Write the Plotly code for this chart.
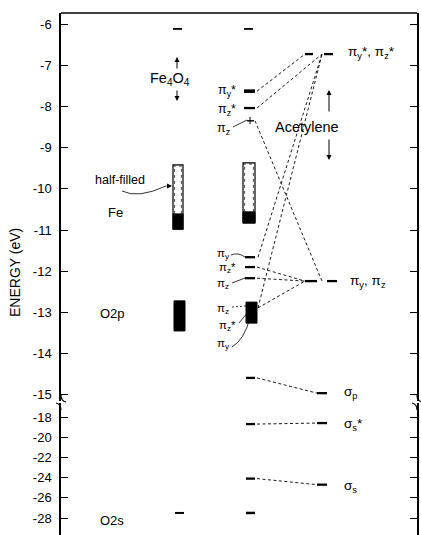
import plotly.graph_objects as go

# ---------------- data (energies in eV) ----------------
fe4o4_top_level = -6.12
fe_band = [-9.42, -10.61, -10.98]        # top, start of filled part, bottom
o2p_band = [-12.72, -13.45]
o2s_level = -27.5

complex_top = -6.12
complex_pi_upper = [-7.63, -8.04, -8.35]          # pi_y*, pi_z*, pi_z
complex_band = [-9.37, -10.56, -10.83]
complex_pi_lower = [-11.66, -11.90, -12.17]       # pi_y, pi_z*, pi_z
complex_o2p_band = [-12.75, -13.26]
complex_sigma = [-14.59, -18.7, -24.1]
complex_o2s = -27.5

acet_levels = [-6.73, -12.24, -14.96, -18.6, -24.7]
acet_names = ["π<sub>y</sub>*, π<sub>z</sub>*", "π<sub>y</sub>, π<sub>z</sub>",
              "σ<sub>p</sub>", "σ<sub>s</sub>*", "σ<sub>s</sub>"]

corr_from = [-7.63, -8.04, -8.35, -11.66, -12.89, -11.90, -12.17, -12.89, -14.59, -18.7, -24.1]
corr_to = [-6.73, -6.73, -12.24, -6.73, -6.73, -12.24, -12.24, -12.24, -14.96, -18.6, -24.7]

upper_ticks = [-6, -7, -8, -9, -10, -11, -12, -13, -14, -15]
lower_ticks = [-18, -20, -22, -24, -26, -28]

# ---------------- layout helpers ----------------
W, H = 421, 535
L, R, T, B = 61, 4, 13, 0
PW, PH = W - L - R, H - T - B
BREAK = -16.0
FONT = "Liberation Sans, Arial, Helvetica, sans-serif"


def P(x, y):
    return (x - L) / PW, (H - y) / PH


def axes_for(E):
    return ("x", "y") if E > BREAK else ("x2", "y2")


fig = go.Figure()


def seg(x0, x1, e0, e1=None, width=2.2, dash="solid"):
    if e1 is None:
        e1 = e0
    xa, ya = axes_for(e0)
    fig.add_trace(go.Scatter(x=[x0, x1], y=[e0, e1], mode="lines", xaxis=xa, yaxis=ya,
                             line=dict(color="black", width=width, dash=dash),
                             hoverinfo="skip", showlegend=False))


shapes = []


def band(x0, x1, top, bottom, filled_from=None):
    xa, ya = axes_for(top)
    if filled_from is None:
        shapes.append(dict(type="rect", xref=xa, yref=ya, x0=x0, x1=x1, y0=bottom, y1=top,
                           fillcolor="black", line=dict(color="black", width=1)))
    else:
        shapes.append(dict(type="rect", xref=xa, yref=ya, x0=x0, x1=x1, y0=bottom, y1=top,
                           fillcolor="white", line=dict(color="black", width=1.2)))
        for xx in (x0 + 1.6, x1 - 1.6):
            shapes.append(dict(type="line", xref=xa, yref=ya, x0=xx, x1=xx,
                               y0=filled_from, y1=top - 0.03,
                               line=dict(color="black", width=0.7, dash="dot")))
        shapes.append(dict(type="line", xref=xa, yref=ya, x0=x0, x1=x1,
                           y0=top - 0.03, y1=top - 0.03,
                           line=dict(color="black", width=0.7, dash="dot")))
        shapes.append(dict(type="rect", xref=xa, yref=ya, x0=x0, x1=x1, y0=bottom, y1=filled_from,
                           fillcolor="black", line=dict(color="black", width=1)))


# Fe4O4 column
seg(173, 182, fe4o4_top_level, width=1.8)
band(173, 183, fe_band[0], fe_band[2], fe_band[1])
band(174, 185, o2p_band[0], o2p_band[1])
seg(175, 184, o2s_level, width=2)

# complex column
seg(244, 253, complex_top, width=1.8)
seg(244, 255, complex_pi_upper[0], width=3.6)
seg(244, 255, complex_pi_upper[1], width=2.3)
seg(247, 254, complex_pi_upper[2], width=1.4)
band(243, 255, complex_band[0], complex_band[2], complex_band[1])
for e in complex_pi_lower:
    seg(245, 255, e, width=2.3)
band(246, 257, complex_o2p_band[0], complex_o2p_band[1])
for e in complex_sigma:
    seg(246, 255, e, width=2.3)
seg(246, 255, complex_o2s, width=2.5)

# acetylene column
seg(305, 313, acet_levels[0], width=2.3)
seg(324, 333, acet_levels[0], width=2.3)
seg(305, 317, acet_levels[1], width=2.3)
seg(327, 337, acet_levels[1], width=2.3)
for e in acet_levels[2:]:
    seg(317, 327, e, width=2.3)

# correlation lines
corr_x = [(257, 305), (257, 322), (255, 322), (258, 322), (258, 322),
          (257, 305), (257, 305), (258, 305), (257, 317), (257, 317), (257, 317)]
for (x0, x1), e0, e1 in zip(corr_x, corr_from, corr_to):
    seg(x0, x1, e0, e1, width=0.9, dash="3px,2.5px")

# ---------------- annotations ----------------
ann = []


def text(x, y, s, size=12, xanchor="center", angle=0):
    px, py = P(x, y)
    ann.append(dict(x=px, y=py, xref="paper", yref="paper", text=s, showarrow=False,
                    xanchor=xanchor, yanchor="middle", textangle=angle,
                    font=dict(family=FONT, size=size, color="black")))


def arrow(x, y, ax, ay):
    px, py = P(x, y)
    ann.append(dict(x=px, y=py, xref="paper", yref="paper", text="", showarrow=True,
                    ax=ax, ay=ay, arrowhead=2, arrowsize=1, arrowwidth=1, arrowcolor="black"))


def pline(x0, y0, x1, y1, width=0.8, dash="solid"):
    a, b = P(x0, y0)
    c, d = P(x1, y1)
    shapes.append(dict(type="line", xref="paper", yref="paper", x0=a, y0=b, x1=c, y1=d,
                       line=dict(color="black", width=width, dash=dash)))


def ppath(pts, width=0.8, dash="solid"):
    conv = [P(x, y) for x, y in pts]
    d = "M %f,%f Q %f,%f %f,%f" % (conv[0][0], conv[0][1], conv[1][0], conv[1][1], conv[2][0], conv[2][1])
    shapes.append(dict(type="path", xref="paper", yref="paper", path=d,
                       line=dict(color="black", width=width, dash=dash)))


text(15, 272, "ENERGY (eV)", size=14, angle=-90)
text(170, 79, "Fe<sub>4</sub>O<sub>4</sub>", size=14.5)
arrow(177, 57, 0, 13)
arrow(177, 101, 0, -12)
text(120, 180, "half-filled", size=12.5)
ppath([(122, 191), (138, 199), (166, 186)])
arrow(172, 186, -7, 0)
text(115, 212, "Fe", size=13)
text(112, 313, "O2p", size=13)
text(112, 520, "O2s", size=13)

text(307, 127, "Acetylene", size=14.5)
arrow(329, 90, 0, 23)
arrow(329, 160, 0, -22)

# complex labels
lab_font = 12.5
text(227, 91, "π<sub>y</sub>*", size=lab_font)
text(227, 110, "π<sub>z</sub>*", size=lab_font)
text(223, 129, "π<sub>z</sub>", size=lab_font)
pline(233, 127, 247, 120)
pline(250, 117, 250, 124, width=1)

sm = 11.5
text(223, 254, "π<sub>y</sub>", size=sm)
ppath([(231, 255), (238, 252), (245, 257)])
text(227, 268, "π<sub>z</sub>*", size=sm)
text(223, 284, "π<sub>z</sub>", size=sm)
pline(232, 283, 245, 278)
text(223, 309, "π<sub>z</sub>", size=sm)
pline(232, 307, 246, 306, dash="2px,2px")
text(227, 326, "π<sub>z</sub>*", size=sm)
pline(239, 323, 248, 312)
text(223, 344, "π<sub>y</sub>", size=sm)
ppath([(232, 347), (244, 340), (250, 318)])

# acetylene labels
acet_label_y = [53, 281, 393, 424, 486]
acet_label_x = [346, 348, 342, 342, 342]
for nm, x, y in zip(acet_names, acet_label_x, acet_label_y):
    text(x, y, nm, size=13.5, xanchor="left")

# top border and axis-break marks
pline(61, 13, 417, 13, width=1.5)
for xa in (61, 417):
    ppath([(xa, 395), (xa, 401), (xa + 5, 402)], width=1.2)
    ppath([(xa - 5, 403), (xa, 404), (xa, 410)], width=1.2)

# ---------------- axes ----------------
upper_top = -6 + (24 - T) / 41.2
upper_bot = -6 - (401 - 24) / 41.2
lower_top = -18 + (417 - 403) / 10.1
lower_bot = -18 - (H - 417) / 10.1

yaxis_common = dict(showline=True, linecolor="black", linewidth=1.5, mirror="ticks",
                    ticks="inside", ticklen=7, tickwidth=1.2, tickcolor="black",
                    showgrid=False, zeroline=False, ticklabelstandoff=5,
                    tickfont=dict(family=FONT, size=13, color="black"))

fig.update_layout(
    width=W, height=H,
    margin=dict(l=L, r=R, t=T, b=B, pad=0),
    paper_bgcolor="white", plot_bgcolor="white",
    xaxis=dict(domain=[0, 1], range=[L, W - R], visible=False, anchor="y"),
    xaxis2=dict(domain=[0, 1], range=[L, W - R], visible=False, anchor="y2"),
    yaxis=dict(domain=[(H - 401) / PH, 1], range=[upper_bot, upper_top], anchor="x",
               tickvals=upper_ticks, ticktext=["-%d" % -v for v in upper_ticks], **yaxis_common),
    yaxis2=dict(domain=[0, (H - 403) / PH], range=[lower_bot, lower_top], anchor="x2",
                tickvals=lower_ticks, ticktext=["-%d" % -v for v in lower_ticks], **yaxis_common),
    shapes=shapes,
    annotations=ann,
    showlegend=False,
)

fig.write_html("out.html")
